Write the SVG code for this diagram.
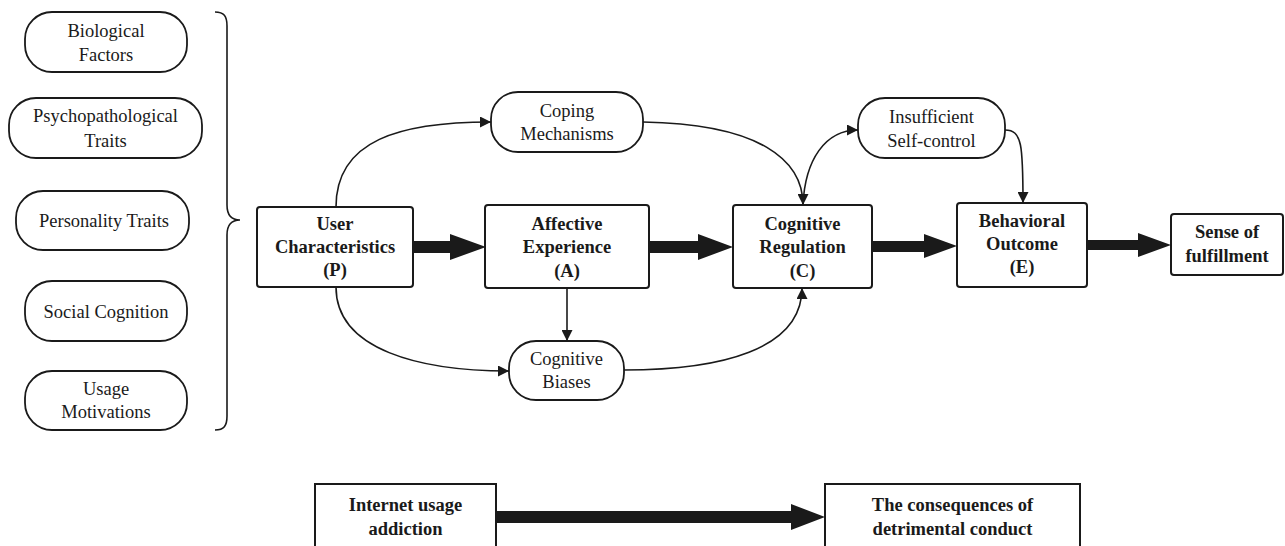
<svg xmlns="http://www.w3.org/2000/svg" width="1285" height="546" viewBox="0 0 1285 546">
<defs>
<style>
.pill{fill:#fff;stroke:#1a1a1a;stroke-width:1.8}
.box{fill:#fff;stroke:#1a1a1a;stroke-width:2}
.t{font-family:"Liberation Serif","Times New Roman",serif;font-size:18.5px;fill:#1a1a1a;text-anchor:middle}
.b{font-weight:bold}
.c{fill:none;stroke:#1a1a1a;stroke-width:1.6}
.thick{fill:#1a1a1a;stroke:none}
</style>
<marker id="ah" viewBox="0 0 10 10" refX="10" refY="5" markerWidth="11" markerHeight="11" markerUnits="userSpaceOnUse" orient="auto">
<path d="M0,0 L10,5 L0,10 Z" fill="#1a1a1a"/>
</marker>
</defs>
<rect width="1285" height="546" fill="#fff"/>

<g id="biological">
<rect class="pill" x="25" y="12" width="162" height="60" rx="27"/>
<text class="t" x="106" y="37">Biological</text>
<text class="t" x="106" y="61">Factors</text>
</g>
<g id="psychopathological">
<rect class="pill" x="9" y="98" width="193" height="60" rx="27"/>
<text class="t" x="105.5" y="122">Psychopathological</text>
<text class="t" x="105.5" y="147">Traits</text>
</g>
<g id="personality">
<rect class="pill" x="16" y="191" width="173" height="59" rx="27"/>
<text class="t" x="104" y="227">Personality Traits</text>
</g>
<g id="social">
<rect class="pill" x="25" y="281" width="162" height="60" rx="27"/>
<text class="t" x="106" y="318">Social Cognition</text>
</g>
<g id="usage">
<rect class="pill" x="25" y="371" width="162" height="59" rx="27"/>
<text class="t" x="106" y="395">Usage</text>
<text class="t" x="106" y="418">Motivations</text>
</g>

<g id="brace">
<path class="c" d="M215,12 C224,12 227,16 227,26 L227,205 C227,215 232,220 240,220 C232,220 227,225 227,235 L227,416 C227,426 224,430 215,430"/>
</g>

<g id="user">
<rect class="box" x="257" y="207" width="156" height="80" rx="3"/>
<text class="t b" x="335" y="230">User</text>
<text class="t b" x="335" y="253">Characteristics</text>
<text class="t b" x="335" y="276">(P)</text>
</g>
<g id="affective">
<rect class="box" x="485" y="205" width="164" height="83" rx="3"/>
<text class="t b" x="567" y="230">Affective</text>
<text class="t b" x="567" y="253">Experience</text>
<text class="t b" x="567" y="277">(A)</text>
</g>
<g id="coping">
<rect class="pill" x="491" y="92" width="152" height="60" rx="27"/>
<text class="t" x="567" y="117">Coping</text>
<text class="t" x="567" y="140">Mechanisms</text>
</g>
<g id="biases">
<rect class="pill" x="509" y="341" width="115" height="59" rx="27"/>
<text class="t" x="566.5" y="365">Cognitive</text>
<text class="t" x="566.5" y="388">Biases</text>
</g>
<g id="cognitive">
<rect class="box" x="733" y="205" width="139" height="83" rx="3"/>
<text class="t b" x="802.5" y="230">Cognitive</text>
<text class="t b" x="802.5" y="253">Regulation</text>
<text class="t b" x="802.5" y="277">(C)</text>
</g>
<g id="selfcontrol">
<rect class="pill" x="858" y="98" width="147" height="60" rx="27"/>
<text class="t" x="931.5" y="123">Insufficient</text>
<text class="t" x="931.5" y="147">Self-control</text>
</g>
<g id="behavioral">
<rect class="box" x="957" y="203" width="130" height="84" rx="3"/>
<text class="t b" x="1022" y="227">Behavioral</text>
<text class="t b" x="1022" y="250">Outcome</text>
<text class="t b" x="1022" y="273">(E)</text>
</g>
<g id="fulfillment">
<rect class="box" x="1171" y="214" width="112" height="61" rx="3"/>
<text class="t b" x="1227" y="238">Sense of</text>
<text class="t b" x="1227" y="262">fulfillment</text>
</g>

<g id="internet">
<rect class="box" x="315" y="484" width="181" height="70" rx="0"/>
<text class="t b" x="405.5" y="511">Internet usage</text>
<text class="t b" x="405.5" y="535">addiction</text>
</g>
<g id="consequences">
<rect class="box" x="825" y="484" width="255" height="70" rx="0"/>
<text class="t b" x="952.5" y="511">The consequences of</text>
<text class="t b" x="952.5" y="535">detrimental conduct</text>
</g>

<g id="connectors">
<polygon class="thick" points="413,241 450,241 450,234 486,247 450,260 450,253 413,253"/>
<polygon class="thick" points="649,241 698,241 698,234 733,247 698,260 698,253 649,253"/>
<polygon class="thick" points="872,241 924,241 924,234 957,246 924,258 924,252 872,252"/>
<polygon class="thick" points="1087,240 1138,240 1138,233 1171,245 1138,257 1138,250 1087,250"/>
<polygon class="thick" points="496,511 791,511 791,504 825,517 791,530 791,523 496,523"/>
<path class="c" marker-end="url(#ah)" d="M336,207 C336,140 400,122 491,122"/>
<path class="c" marker-end="url(#ah)" d="M336,287 C336,350 420,371 509,371"/>
<path class="c" marker-end="url(#ah)" d="M567,288 L567,341"/>
<path class="c" marker-end="url(#ah)" d="M643,122 C760,124 803,160 803,205"/>
<path class="c" marker-end="url(#ah)" d="M803,205 C805,160 825,130 858,130"/>
<path class="c" marker-end="url(#ah)" d="M1005,130 C1022,130 1023,145 1023,203"/>
<path class="c" marker-end="url(#ah)" d="M624,370 C720,370 802,350 802,288"/>
</g>
</svg>
